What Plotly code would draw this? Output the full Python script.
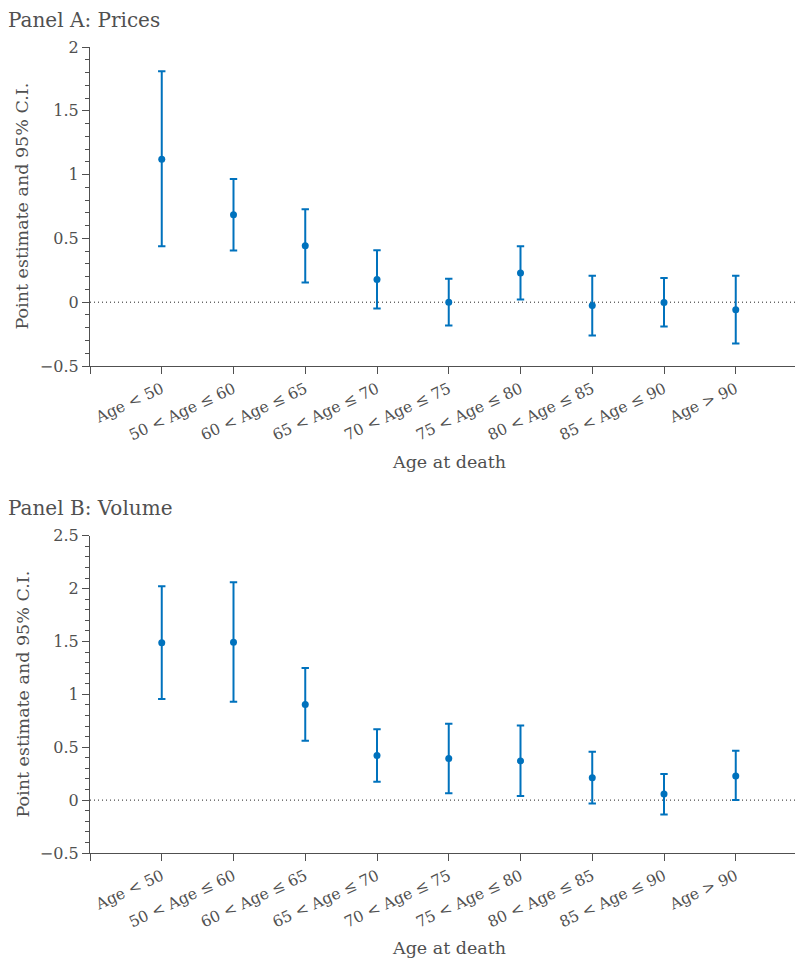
import plotly.graph_objects as go

categories = ["Age < 50", "50 < Age ≤ 60", "60 < Age ≤ 65", "65 < Age ≤ 70",
              "70 < Age ≤ 75", "75 < Age ≤ 80", "80 < Age ≤ 85", "85 < Age ≤ 90", "Age > 90"]

prices_est = [1.12, 0.685, 0.443, 0.178, 0.0, 0.228, -0.026, -0.002, -0.06]
prices_hi = [1.81, 0.965, 0.729, 0.407, 0.184, 0.438, 0.208, 0.189, 0.208]
prices_lo = [0.438, 0.405, 0.155, -0.05, -0.183, 0.021, -0.26, -0.191, -0.323]

volume_est = [1.487, 1.493, 0.904, 0.422, 0.393, 0.371, 0.211, 0.057, 0.229]
volume_hi = [2.023, 2.06, 1.248, 0.671, 0.722, 0.705, 0.457, 0.248, 0.466]
volume_lo = [0.955, 0.93, 0.561, 0.173, 0.066, 0.038, -0.032, -0.136, 0.0]

panel_titles = ["Panel A: Prices", "Panel B: Volume"]
x_title = "Age at death"
y_title = "Point estimate and 95% C.I."

BLUE = "#0072BD"
TXT = "#505050"
AX = "#505050"
FONT = "DejaVu Serif"

xpos = list(range(1, len(categories) + 1))

fig = go.Figure()

def add_panel(est, hi, lo, xa, ya):
    fig.add_trace(go.Scatter(
        x=xpos, y=est, mode="markers", xaxis=xa, yaxis=ya,
        marker=dict(color=BLUE, size=7),
        error_y=dict(type="data", symmetric=False,
                     array=[h - e for h, e in zip(hi, est)],
                     arrayminus=[e - l for e, l in zip(est, lo)],
                     color=BLUE, thickness=2, width=3.7),
        showlegend=False, cliponaxis=False))

add_panel(prices_est, prices_hi, prices_lo, "x", "y")
add_panel(volume_est, volume_hi, volume_lo, "x2", "y2")

# page body has an 8px margin; the figure is sized/offset to compensate
OFF = 8
W, H = 803 - OFF, 960 - OFF
ml, mt = 90 - OFF, 47 - OFF
plot_bottom = 853 - OFF
mb = H - plot_bottom
ph = H - mt - mb
domA = [(853 - 366) / ph, 1.0]
domB = [0.0, (853 - 535.7) / ph]

xcommon = dict(range=[0, (W - ml) / 71.75], tickvals=[0] + xpos, ticktext=[""] + categories,
               tickangle=-25, showline=True, linecolor=AX, linewidth=1.2, ticks="outside",
               ticklen=7, tickcolor=AX, showgrid=False, zeroline=False,
               tickfont=dict(family=FONT, size=15.5, color=TXT))
ycommon = dict(showline=True, linecolor=AX, linewidth=1.2, ticks="outside", ticklen=7,
               tickcolor=AX, showgrid=False, zeroline=False, dtick=0.5, tick0=0,
               minor=dict(dtick=0.1, ticks="outside", ticklen=4, tickcolor=AX),
               tickfont=dict(family=FONT, size=16, color=TXT))

fig.update_layout(
    width=W, height=H,
    margin=dict(l=ml, r=0, t=mt, b=mb),
    plot_bgcolor="white", paper_bgcolor="white",
    xaxis=dict(**xcommon, domain=[0, 1], anchor="y"),
    yaxis=dict(**ycommon, range=[-0.5, 2], domain=domA, anchor="x"),
    xaxis2=dict(**xcommon, domain=[0, 1], anchor="y2"),
    yaxis2=dict(**ycommon, range=[-0.5, 2.5], domain=domB, anchor="x2"),
    font=dict(family=FONT, color=TXT),
)

for xa, ya in [("x", "y"), ("x2", "y2")]:
    fig.add_shape(type="line", xref=f"{xa} domain", yref=ya, x0=0, x1=1, y0=0, y1=0,
                  line=dict(color="#222222", width=1, dash="1px,3px"), layer="below")

def px_to_paper_y(py):
    return (H - mb - (py - OFF)) / ph

def px_to_paper_x(pxx):
    return (pxx - OFF - ml) / (W - ml)

annos = [
    (panel_titles[0], 6, 20, 20, 0, "left"),
    (panel_titles[1], 6, 508, 20, 0, "left"),
    (x_title, 449, 462, 17.5, 0, "center"),
    (x_title, 449, 948, 17.5, 0, "center"),
    (y_title, 22, 206.5, 17.5, -90, "center"),
    (y_title, 22, 694.5, 17.5, -90, "center"),
]
for text, axp, ayp, size, ang, xanchor in annos:
    fig.add_annotation(text=text, xref="paper", yref="paper",
                       x=px_to_paper_x(axp), y=px_to_paper_y(ayp),
                       xanchor=xanchor, yanchor="middle", textangle=ang,
                       showarrow=False, font=dict(family=FONT, size=size, color=TXT))

fig.write_html("out.html")
